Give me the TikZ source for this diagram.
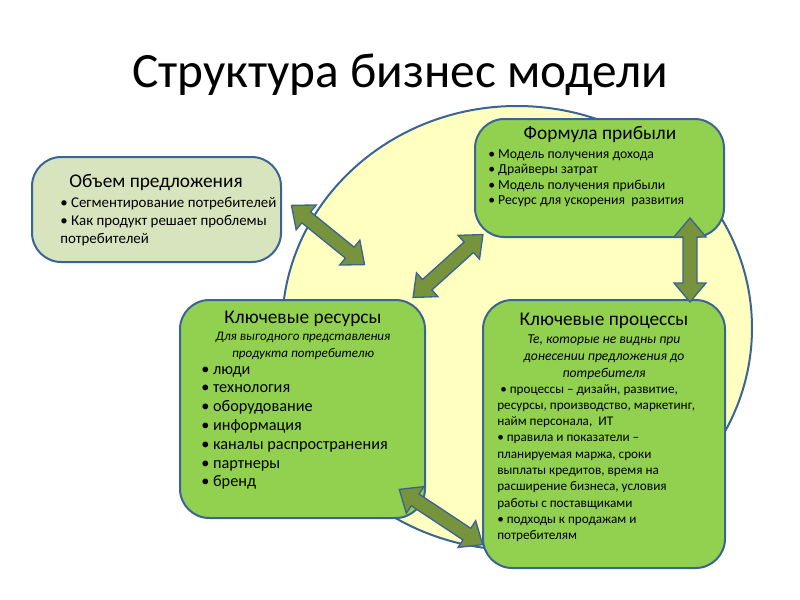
\documentclass[tikz,border=0pt]{standalone}
\usepackage{fontspec}
\setmainfont{Carlito}
\definecolor{edgeblue}{RGB}{59,100,150}
\definecolor{boxgreen}{RGB}{146,208,80}
\definecolor{palegreen}{RGB}{215,228,189}
\definecolor{arrowgreen}{RGB}{119,147,60}
\definecolor{paleyellow}{RGB}{255,255,192}
\tikzset{
  card/.style={draw=edgeblue, line width=1.5pt, rounded corners=22pt},
  cardtitle/.style={anchor=north, inner sep=0pt, font=\fontsize{14.5}{16}\selectfont},
  cardtext/.style={anchor=north, align=left, inner sep=0pt},
  blockarrow/.style={draw=edgeblue, line width=1pt, fill=arrowgreen, line join=miter},
}
% x, y, angle, half length
\newcommand\twoway[4]{%
  \draw [blockarrow, shift={(#1,#2)}, rotate=#3]
    (-#4,0) -- (-#4+19,-16) -- (-#4+19,-7) -- (#4-19,-7) -- (#4-19,-16) -- (#4,0)
    -- (#4-19,16) -- (#4-19,7) -- (-#4+19,7) -- (-#4+19,16) -- cycle;}
\begin{document}
\begin{tikzpicture}[x=0.75pt,y=0.75pt,yscale=-1,xscale=1]
\useasboundingbox (0,0) rectangle (800,600);

%Circle
\draw [draw=edgeblue, line width=1.5pt, fill=paleyellow] (517,328) ellipse (235 and 222);

%Title
\node (title) at (400,75) {\fontsize{37}{40}\selectfont Структура бизнес модели};

%Boxes
\draw [card, fill=palegreen] (32,157) rectangle (281,262);
\node (volumetitle) [cardtitle] at (156,174) {Объем предложения};
\node (volume) [cardtext, anchor=north west, font=\fontsize{11.2}{13.5}\selectfont] at (60,197)
  {• Сегментирование потребителей\\
   • Как продукт решает проблемы\\ потребителей};

\draw [card, fill=boxgreen] (475,119) rectangle (724,237);
\node (formulatitle) [cardtitle] at (600,126) {Формула прибыли};
\node (formula) [cardtext, anchor=north west, font=\fontsize{10.3}{11.6}\selectfont] at (488,149)
  {• Модель получения дохода\\
   • Драйверы затрат\\
   • Модель получения прибыли\\
   • Ресурс для ускорения \ развития};

\draw [card, fill=boxgreen] (180,300) rectangle (425,518);
\node (resourcestitle) [cardtitle] at (303,311) {Ключевые ресурсы};
\node (resourcesnote) [cardtext, align=center, font=\fontsize{9.8}{13}\selectfont\itshape] at (303,332)
  {Для выгодного представления\\ продукта потребителю};
\node (resources) [cardtext, anchor=north west, font=\fontsize{12.2}{14.1}\selectfont] at (201,366)
  {• люди\\ • технология\\ • оборудование\\ • информация\\
   • каналы распространения\\ • партнеры\\ • бренд};

\draw [card, fill=boxgreen] (483,300) rectangle (725,568);
\node (processestitle) [cardtitle] at (604,313) {Ключевые процессы};
\node (processesnote) [cardtext, align=center, font=\fontsize{10.2}{12.5}\selectfont\itshape] at (604,335)
  {Те, которые не видны при\\ донесении предложения до\\ потребителя};
\node (processes) [cardtext, anchor=north west, font=\fontsize{9.9}{12.2}\selectfont] at (497,384)
  {\ • процессы -- дизайн, развитие,\\
   ресурсы, производство, маркетинг,\\
   найм персонала, \ ИТ\\
   • правила и показатели --\\
   планируемая маржа, сроки\\
   выплаты кредитов, время на\\
   расширение бизнеса, условия\\
   работы с поставщиками\\
   • подходы к продажам и\\
   потребителям};

%Arrows
\twoway{328}{235}{39}{47}
\twoway{448}{266}{-42}{47}
\twoway{690}{260}{90}{42}
\twoway{441}{517}{33.5}{50}
\end{tikzpicture}
\end{document}
